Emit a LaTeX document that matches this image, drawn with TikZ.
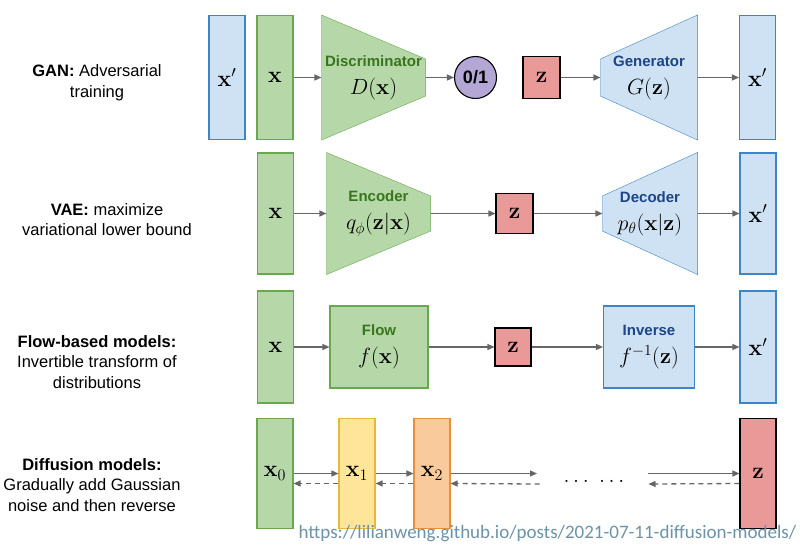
\RequirePackage{fix-cm}
\documentclass[tikz,border=0pt]{standalone}
\usepackage{graphicx}
\usepackage[no-math]{fontspec}
\setsansfont{Liberation Sans}
\newfontfamily\linkfont{Carlito}
\usetikzlibrary{arrows.meta,backgrounds}

\definecolor{gfill}{HTML}{B6D7A8}
\definecolor{gline}{HTML}{6AA84F}
\definecolor{gtext}{HTML}{38761D}
\definecolor{bfill}{HTML}{CFE2F3}
\definecolor{bline}{HTML}{3D85C6}
\definecolor{btext}{HTML}{1C4587}
\definecolor{rfill}{HTML}{EA9999}
\definecolor{pfill}{HTML}{B4A7D6}
\definecolor{yfill}{HTML}{FFE599}
\definecolor{yline}{HTML}{E5B93A}
\definecolor{ofill}{HTML}{F9CB9C}
\definecolor{oline}{HTML}{E69138}
\definecolor{arrgray}{HTML}{666666}
\definecolor{linkcol}{HTML}{6E93A8}

\newcommand{\greentag}[1]{{\sffamily\bfseries\textcolor{gtext}{#1}}}
\newcommand{\bluetag}[1]{{\sffamily\bfseries\textcolor{btext}{#1}}}
\newcommand{\mathline}[1]{{\fontsize{20}{28}\selectfont\scalebox{1.1}{$#1$}}}
\newcommand{\boxm}[1]{\scalebox{1.15}{$#1$}}

\begin{document}
\begin{tikzpicture}[x=1pt,y=-1pt,line width=1.1pt,>={Triangle[length=7pt,width=6pt]},
    every node/.style={inner sep=0pt},
    bigmath/.style={font=\fontsize{20}{24}\selectfont},
    title/.style={font=\sffamily\fontsize{16.5}{20.5}\selectfont,align=center},
    gbox/.style={draw=gline,fill=gfill,minimum width=36pt,bigmath},
    bbox/.style={draw=bline,fill=bfill,minimum width=36pt,bigmath},
    zbox/.style={draw=black,fill=rfill,minimum width=37pt,bigmath},
    trapframe/.style={minimum width=#1,align=center,font=\fontsize{15}{28}\selectfont},
    arr/.style={->,draw=arrgray,line width=1.3pt},
    back/.style={arr,dash pattern=on 5pt off 4pt}]
    \useasboundingbox (0,0) rectangle (800,550);

    % GAN
    \node[title] (gan) at (97,82.5) {\textbf{GAN:} Adversarial\\training};
    \node[bbox,minimum height=124pt] (xpa) at (227,77.5) {\boxm{\mathbf{x}'}};
    \node[gbox,minimum height=124pt] (xa) at (275,77.5) {\boxm{\mathbf{x}}};
    \node[trapframe=103pt,minimum height=124pt] (disc) at (373.5,77.5) {\greentag{Discriminator}\\\mathline{D(\mathbf{x})}};
    \node[circle,draw=black,fill=pfill,minimum size=42pt,font=\sffamily\bfseries\fontsize{18}{20}\selectfont] (outa) at (475.5,77.5) {0/1};
    \node[zbox,minimum height=42pt] (za) at (541.5,77.5) {\boxm{\mathbf{z}}};
    \node[trapframe=96pt,minimum height=124pt] (gen) at (649,77.5) {\bluetag{Generator}\\\mathline{G(\mathbf{z})}};
    \node[bbox,minimum height=124pt] (xpb) at (757.5,77.5) {\boxm{\mathbf{x}'}};

    % VAE
    \node[title] (vae) at (107,219.5) {\textbf{VAE:} maximize\\variational lower bound};
    \node[gbox,minimum height=121pt] (xb) at (275.5,213.5) {\boxm{\mathbf{x}}};
    \node[trapframe=103pt,minimum height=121pt] (enc) at (378.5,213.5) {\greentag{Encoder}\\\mathline{q_\phi(\mathbf{z}|\mathbf{x})}};
    \node[zbox,minimum height=40pt] (zb) at (514.5,213.5) {\boxm{\mathbf{z}}};
    \node[trapframe=94pt,minimum height=121pt] (dec) at (650,213.5) {\bluetag{Decoder}\\\mathline{p_\theta(\mathbf{x}|\mathbf{z})}};
    \node[bbox,minimum height=121pt] (xpc) at (758,213.5) {\boxm{\mathbf{x}'}};

    % Flow
    \node[title] (flowlbl) at (97,362) {\textbf{Flow-based models:}\\Invertible transform of\\distributions};
    \node[gbox,minimum height=112pt] (xc) at (275.5,347) {\boxm{\mathbf{x}}};
    \node[draw=gline,fill=gfill,trapframe=98pt,minimum height=82pt] (flow) at (379,347) {\greentag{Flow}\\\mathline{f(\mathbf{x})}};
    \node[zbox,minimum width=36pt,minimum height=38pt] (zc) at (513,347) {\boxm{\mathbf{z}}};
    \node[draw=bline,fill=bfill,trapframe=91pt,minimum height=82pt] (inv) at (649,347) {\bluetag{Inverse}\\\mathline{f^{-1}(\mathbf{z})}};
    \node[bbox,minimum height=112pt] (xpd) at (758,347) {\boxm{\mathbf{x}'}};

    % Diffusion
    \node[title] (difflbl) at (92,485) {\textbf{Diffusion models:}\\Gradually add Gaussian\\noise and then reverse};
    \node[gbox,minimum height=110pt] (x0) at (275,473.5) {\boxm{\mathbf{x}_0}};
    \node[draw=yline,fill=yfill,minimum width=36pt,minimum height=110pt,bigmath] (x1) at (357,473.5) {\boxm{\mathbf{x}_1}};
    \node[draw=oline,fill=ofill,minimum width=36pt,minimum height=110pt,bigmath] (x2) at (432,473.5) {\boxm{\mathbf{x}_2}};
    \node[zbox,minimum width=36pt,minimum height=110pt] (zd) at (758,473.5) {\boxm{\mathbf{z}}};
    \node[bigmath] (dots) at (594,481) {\scalebox{1.1}{$\dots\ \dots$}};
    \coordinate (f1) at (537,473.5);
    \coordinate (f2) at (648,473.5);
    \coordinate (b1) at (539.5,484);
    \coordinate (b2) at (648.5,484);

    \node[anchor=base west,font=\linkfont\fontsize{19}{22}\selectfont,text=linkcol] (url) at (298,538) {https://lilianweng.github.io/posts/2021-07-11-diffusion-models/};

    % trapezoids behind the text
    \begin{scope}[on background layer]
        \fill[white] (0,0) rectangle (800,550);
        \draw[draw=gline,fill=gfill] (disc.north west) -- ([yshift=-44pt]disc.north east) -- ([yshift=44pt]disc.south east) -- (disc.south west) -- cycle;
        \draw[draw=bline,fill=bfill] ([yshift=-44pt]gen.north west) -- (gen.north east) -- (gen.south east) -- ([yshift=44pt]gen.south west) -- cycle;
        \draw[draw=gline,fill=gfill] (enc.north west) -- ([yshift=-43.5pt]enc.north east) -- ([yshift=43.5pt]enc.south east) -- (enc.south west) -- cycle;
        \draw[draw=bline,fill=bfill] ([yshift=-43.5pt]dec.north west) -- (dec.north east) -- (dec.south east) -- ([yshift=43.5pt]dec.south west) -- cycle;
    \end{scope}

    \draw[arr] (xa) -- (disc);
    \draw[arr] (disc) -- (outa);
    \draw[arr] (za) -- (gen);
    \draw[arr] (gen) -- (xpb);
    \draw[arr] (xb) -- (enc);
    \draw[arr] (enc) -- (zb);
    \draw[arr] (zb) -- (dec);
    \draw[arr] (dec) -- (xpc);
    \draw[arr] (xc) -- (flow);
    \draw[arr] (flow) -- (zc);
    \draw[arr] (zc) -- (inv);
    \draw[arr] (inv) -- (xpd);
    \draw[arr] (x0) -- (x1);
    \draw[arr] (x1) -- (x2);
    \draw[arr] (x2) -- (f1);
    \draw[arr] (f2) -- (zd);
    \draw[back] ([yshift=-10pt]x1.west) -- ([yshift=-10pt]x0.east);
    \draw[back] ([yshift=-10pt]x2.west) -- ([yshift=-10pt]x1.east);
    \draw[back] (b1) -- ([yshift=-10pt]x2.east);
    \draw[back] ([yshift=-10pt]zd.west) -- (b2);
\end{tikzpicture}
\end{document}
